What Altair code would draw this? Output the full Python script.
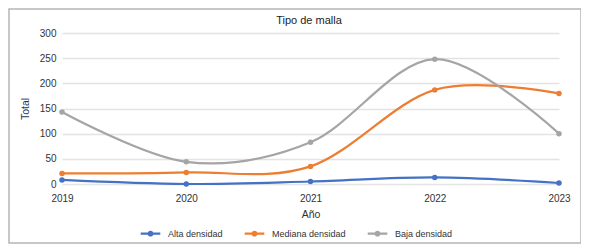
import altair as alt
import pandas as pd

years = ["2019", "2020", "2021", "2022", "2023"]
alta = [8, 0, 5, 13, 2]
mediana = [21, 23, 35, 187, 180]
baja = [143, 44, 83, 248, 100]
series = ["Alta densidad", "Mediana densidad", "Baja densidad"]
colors = ["#4472C4", "#ED7D31", "#A5A5A5"]
y_ticks = [0, 50, 100, 150, 200, 250, 300]
chart_title = "Tipo de malla"

rows = []
for name, vals in zip(series, [alta, mediana, baja]):
    for y, v in zip(years, vals):
        rows.append({"Año": y, "Total": v, "Serie": name})
df = pd.DataFrame(rows)

font = "Liberation Sans"
legend_path = "M-1.6,0L1.6,0M0.3,0A0.3,0.3,0,1,1,-0.3,0A0.3,0.3,0,1,1,0.3,0Z"

x_enc = alt.X("Año:O", title="Año", scale=alt.Scale(padding=0),
              axis=alt.Axis(labelAngle=0, ticks=False, domain=False, grid=False,
                            labelPadding=9, titlePadding=6))
y_enc = alt.Y("Total:Q", title="Total", scale=alt.Scale(domain=[0, 300], nice=False),
              axis=alt.Axis(values=y_ticks, tickCount=7, ticks=False, domain=False, labelOverlap=False,
                            labelPadding=6, titlePadding=9, gridColor="#e3e3e3", gridWidth=1.5,
                            titleColor="#1f3864"))

base = alt.Chart(df)

lines = base.mark_line(interpolate="cardinal", strokeWidth=2.2).encode(
    x=x_enc, y=y_enc,
    color=alt.Color("Serie:N", sort=series,
                    scale=alt.Scale(domain=series, range=colors),
                    legend=alt.Legend(title=None, orient="none", direction="horizontal",
                                      legendX=81, legendY=193, symbolType=legend_path,
                                      symbolSize=150, symbolStrokeWidth=2.2,
                                      columnPadding=17, labelOffset=10)),
)
points = base.mark_point(filled=True, size=30, opacity=1).encode(
    x=x_enc, y=y_enc,
    color=alt.Color("Serie:N", sort=series, scale=alt.Scale(domain=series, range=colors), legend=None),
)

border = alt.Chart(pd.DataFrame({"a": [0]})).mark_rect(
    fill=None, stroke="#b5b5b5", strokeWidth=1.5
).encode(x=alt.value(-53), x2=alt.value(519), y=alt.value(-24), y2=alt.value(210))

title = alt.Chart(pd.DataFrame({"t": [chart_title]})).mark_text(
    font=font, fontSize=11, color="#222222", align="center", baseline="middle"
).encode(text="t:N", x=alt.value(247), y=alt.value(-12))

chart = alt.layer(border, lines, points, title).properties(
    width=497, height=151,
    autosize=alt.AutoSizeParams(type="none"),
    padding={"left": 54, "top": 25, "right": 22, "bottom": 60},
).configure_view(stroke=None).configure_axis(
    labelFont=font, titleFont=font, labelFontSize=10, titleFontSize=10.5,
    labelColor="#333333", titleColor="#333333", titleFontWeight="normal",
).configure_legend(labelFont=font, labelFontSize=9, labelColor="#333333")

chart.save("out.html", embed_options={"renderer": "svg", "actions": False})
